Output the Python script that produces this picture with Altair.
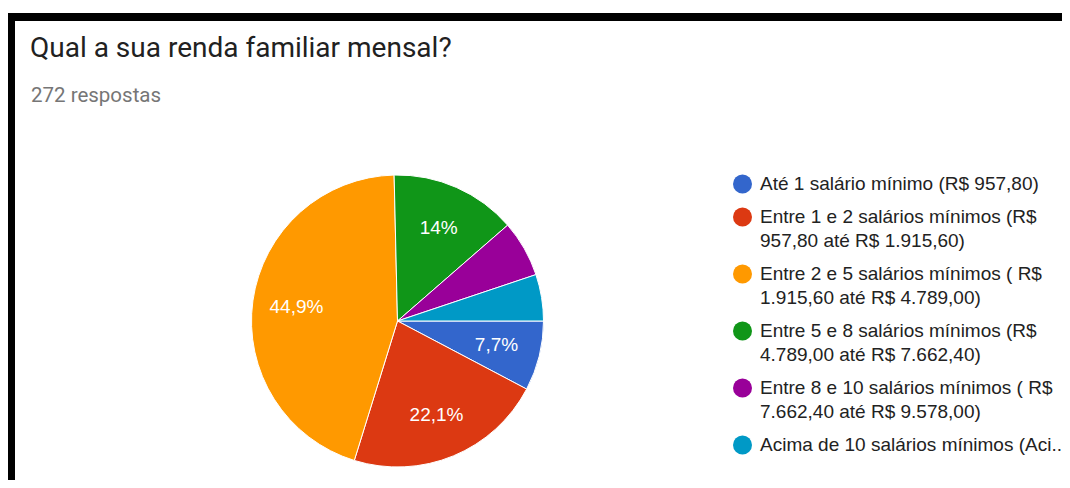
import math
import altair as alt
import pandas as pd

# ---- data ----
categories = [
    "Até 1 salário mínimo (R$ 957,80)",
    "Entre 1 e 2 salários mínimos (R$\n957,80 até R$ 1.915,60)",
    "Entre 2 e 5 salários mínimos ( R$\n1.915,60 até R$ 4.789,00)",
    "Entre 5 e 8 salários mínimos (R$\n4.789,00 até R$ 7.662,40)",
    "Entre 8 e 10 salários mínimos ( R$\n7.662,40 até R$ 9.578,00)",
    "Acima de 10 salários mínimos (Aci..",
]
counts = [21, 60, 122, 38, 17, 14]
slice_labels = ["7,7%", "22,1%", "44,9%", "14%", "", ""]
colors = ["#3366CC", "#DC3912", "#FF9900", "#109618", "#990099", "#0099C6"]
title_text = ["Qual a sua renda familiar mensal?"]
subtitle_text = ["272 respostas"]

W, H = 1054, 472
CX, CY, R = 389.5, 313, 146

df = pd.DataFrame({"cat": categories, "n": counts, "lab": slice_labels, "i": list(range(len(counts)))})

theta = alt.Theta("n:Q", stack=True,
                  scale=alt.Scale(range=[math.pi / 2, math.pi / 2 + 2 * math.pi]))

legend = alt.Legend(
    title=None, orient="none", legendX=725, legendY=166.5,
    symbolType="circle", symbolSize=361, symbolStrokeWidth=0, symbolOpacity=1,
    labelFont="Liberation Sans", labelFontSize=19, labelColor="#222222",
    labelLimit=500, labelOffset=8, rowPadding=13,
    labelExpr="split(datum.label, '\\n')",
)

base = alt.Chart(df).encode(
    theta=theta, order=alt.Order("i:Q"), x=alt.value(CX), y=alt.value(CY)
)
pie = base.mark_arc(outerRadius=R, stroke="white", strokeWidth=1).encode(
    color=alt.Color("cat:N", sort=categories,
                    scale=alt.Scale(domain=categories, range=colors), legend=legend)
)
pct = base.mark_text(radius=102, font="Liberation Sans", fontSize=19, color="white").encode(
    text="lab:N"
)

one = pd.DataFrame({"k": [0]})
top_bar = alt.Chart(one).mark_rect(color="black").encode(
    x=alt.value(0), x2=alt.value(W), y=alt.value(5), y2=alt.value(13))
left_bar = alt.Chart(one).mark_rect(color="black").encode(
    x=alt.value(0), x2=alt.value(7), y=alt.value(5), y2=alt.value(H))

title = alt.Chart(pd.DataFrame({"t": title_text})).mark_text(
    align="left", baseline="alphabetic", font="Roboto", fontSize=28, color="#212121"
).encode(text="t:N", x=alt.value(22), y=alt.value(49))
subtitle = alt.Chart(pd.DataFrame({"t": subtitle_text})).mark_text(
    align="left", baseline="alphabetic", font="Roboto", fontSize=20.5, color="#767676"
).encode(text="t:N", x=alt.value(23), y=alt.value(94))

chart = alt.layer(top_bar, left_bar, title, subtitle, pie, pct).properties(
    width=W, height=H, padding=0,
    autosize=alt.AutoSizeParams(type="none"),
    background="white",
).configure(style={"guide-label": {"lineHeight": 24}}).configure_view(strokeWidth=0)

chart.save("out.html", embed_options={"renderer": "svg", "actions": False})
